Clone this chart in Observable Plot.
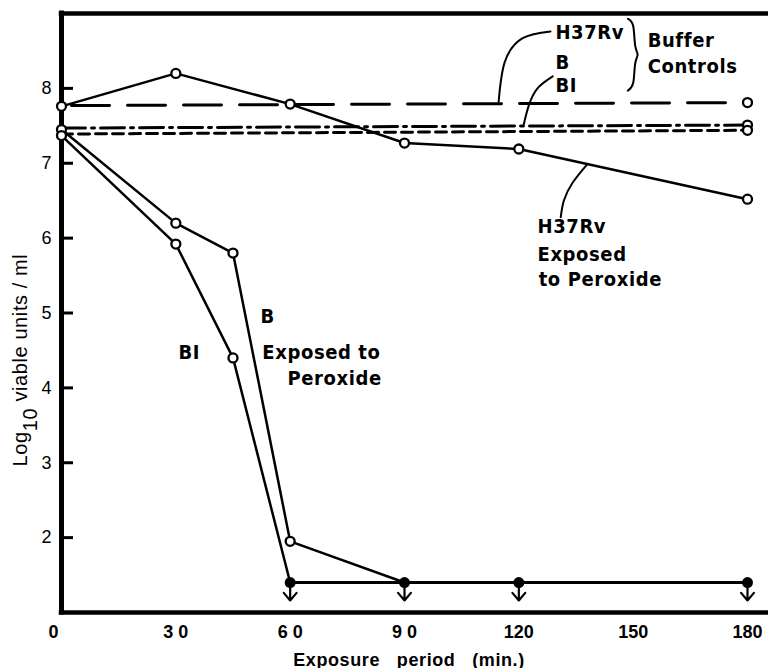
<!DOCTYPE html>
<html><head><meta charset="utf-8">
<script src="https://cdn.jsdelivr.net/npm/d3@7"></script>
<script src="https://cdn.jsdelivr.net/npm/@observablehq/plot@0.6"></script>
<style>
body{margin:0;background:#fff}
#chart svg{display:block}
#chart g[aria-label="text"] text{letter-spacing:0.6px}
</style>
</head><body><div id="chart"></div>
<script>
// ---- data ----
const h37rvTimes = [0, 30, 60, 90, 120, 180];
const h37rvExposed = [7.76, 8.20, 7.79, 7.27, 7.19, 6.52];
const bTimes = [0, 30, 45, 60, 90];
const bExposed = [7.45, 6.20, 5.80, 1.95, 1.40];
const b1Times = [0, 30, 45, 60];
const b1Exposed = [7.37, 5.92, 4.40, 1.40];
const limitTimes = [60, 90, 120, 180];
const limitValues = [1.40, 1.40, 1.40, 1.40];
const controlTimes = [0, 180];
const h37rvControl = [7.77, 7.81];
const bControl = [7.47, 7.51];
const b1Control = [7.39, 7.44];
const xTicks = [0, 30, 60, 90, 120, 150, 180];
const xTickLabels = ["0", "3 0", "6 0", "9 0", "120", "150", "180"];
const yTicks = [2, 3, 4, 5, 6, 7, 8];

// annotation texts (data coordinates, baseline)
const annotations = [
  {text: "H37Rv", x: 129.6, y: 8.666},
  {text: "B", x: 129.6, y: 8.265},
  {text: "BI", x: 129.6, y: 7.958},
  {text: "Buffer", x: 153.8, y: 8.546},
  {text: "Controls", x: 153.8, y: 8.199},
  {text: "H37Rv", x: 124.9, y: 6.075},
  {text: "Exposed", x: 124.9, y: 5.70},
  {text: "to Peroxide", x: 125.2, y: 5.354},
  {text: "B", x: 52.2, y: 4.873},
  {text: "BI", x: 30.7, y: 4.379},
  {text: "Exposed to", x: 52.7, y: 4.392},
  {text: "Peroxide", x: 59.3, y: 4.032}
];
const leaderH37rvControl = [[128.3, 8.76], [121.0, 8.67], [116.3, 8.35], [114.7, 7.82]];
const leaderBControl = [[128.9, 8.16], [124.9, 8.00], [122.6, 7.77], [121.3, 7.52]];
const leaderH37rvExposed = [[138.0, 6.99], [134.1, 6.74], [131.8, 6.50], [131.0, 6.28]];
const brace = [[148.6, 8.93], [150.3, 8.88], [150.3, 8.53], [151.6, 8.45], [150.3, 8.37], [150.3, 8.03], [148.6, 7.97]];

// ---- tables ----
const zip = (xs, ys) => xs.map((x, i) => ({x, y: ys[i]}));
const h37 = zip(h37rvTimes, h37rvExposed);
const bE = zip(bTimes, bExposed);
const b1E = zip(b1Times, b1Exposed);
const lim = zip(limitTimes, limitValues);
const cH = zip(controlTimes, h37rvControl);
const cB = zip(controlTimes, bControl);
const cB1 = zip(controlTimes, b1Control);
const openPts = [
  ...h37,
  ...bE.filter(d => !limitTimes.includes(d.x)),
  ...b1E.filter(d => !limitTimes.includes(d.x)),
  bE.find(d => d.x === 60),
  cH[1], cB[1], cB1[1]
];
const pairs = a => a.map(([x, y]) => ({x, y}));
const annFont = "'DejaVu Sans Condensed', 'DejaVu Sans', sans-serif";
const fmtX = d => xTickLabels[xTicks.indexOf(d)];

const chart = Plot.plot({
  width: 768, height: 668,
  marginLeft: 61, marginRight: 0, marginTop: 13, marginBottom: 56,
  x: {domain: [0, 180], range: [61, 747]},
  y: {domain: [1, 9], range: [612, 13]},
  style: {background: "white", color: "black", fontFamily: "'Liberation Sans', Arial, sans-serif"},
  marks: [
    // frame (left, top, bottom)
    Plot.ruleY([1, 9], {strokeWidth: 4.5, strokeLinecap: "square"}),
    Plot.ruleX([0], {strokeWidth: 5, strokeLinecap: "square"}),
    Plot.ruleY(yTicks, {insetLeft: 2, insetRight: 695, strokeWidth: 3}),
    // buffer controls
    Plot.line(cH, {x: "x", y: "y", strokeWidth: 3, strokeDasharray: "38,18", strokeDashoffset: -10}),
    Plot.line(cB, {x: "x", y: "y", strokeWidth: 3, strokeDasharray: "24,6,3,6"}),
    Plot.line(cB1, {x: "x", y: "y", strokeWidth: 3, strokeDasharray: "11,6"}),
    // exposed curves
    Plot.line(h37, {x: "x", y: "y", strokeWidth: 2.5}),
    Plot.line(bE, {x: "x", y: "y", strokeWidth: 2.5}),
    Plot.line(b1E, {x: "x", y: "y", strokeWidth: 2.5}),
    Plot.line(lim, {x: "x", y: "y", strokeWidth: 3}),
    // leaders & brace
    Plot.line(pairs(leaderH37rvControl), {x: "x", y: "y", strokeWidth: 2, curve: "natural"}),
    Plot.line(pairs(leaderBControl), {x: "x", y: "y", strokeWidth: 2, curve: "natural"}),
    Plot.line(pairs(leaderH37rvExposed), {x: "x", y: "y", strokeWidth: 2, curve: "natural"}),
    Plot.line(pairs(brace), {x: "x", y: "y", strokeWidth: 2, curve: "basis"}),
    // points
    Plot.dot(openPts, {x: "x", y: "y", r: 4.5, fill: "white", stroke: "black", strokeWidth: 2.3}),
    Plot.arrow(lim, {x: "x", y1: "y", y2: 1, insetEnd: 12, headLength: 7, headAngle: 80, strokeWidth: 2.2}),
    Plot.dot(lim, {x: "x", y: "y", r: 5.5, fill: "black", stroke: "none"}),
    // annotations
    Plot.text(annotations, {x: "x", y: "y", text: "text", textAnchor: "start", lineAnchor: "bottom",
      fontSize: 20, fontWeight: "bold", fontFamily: annFont}),
    Plot.text(["Exposure\u00a0\u00a0\u00a0period\u00a0\u00a0\u00a0(min.)"], {frameAnchor: "bottom", dx: -6, dy: 53,
      lineAnchor: "bottom", fontSize: 18, fontWeight: "bold"}),
    // axes
    Plot.axisX(xTicks.slice(1), {tickSize: 0, tickPadding: 13, tickFormat: fmtX, fontSize: 18, fontWeight: "bold", label: null}),
    Plot.axisX([0], {tickSize: 0, tickPadding: 13, tickFormat: fmtX, fontSize: 18, fontWeight: "bold", label: null, dx: -8}),
    Plot.axisY(yTicks, {tickSize: 0, tickPadding: 10, fontSize: 18, tickFormat: d => String(d), label: null})
  ]
});

const svg = d3.select(chart);
svg.append("text")
  .attr("transform", "translate(27,360) rotate(-90)")
  .attr("text-anchor", "middle")
  .attr("fill", "black")
  .style("font", "20px 'Liberation Sans', Arial, sans-serif")
  .style("letter-spacing", "0.6px")
  .call(t => {
    t.append("tspan").text("Log");
    t.append("tspan").attr("dy", "0.5em").text("10");
    t.append("tspan").attr("dy", "-0.5em").text(" viable units / ml");
  });
document.getElementById("chart").appendChild(chart);
</script>
</body></html>
